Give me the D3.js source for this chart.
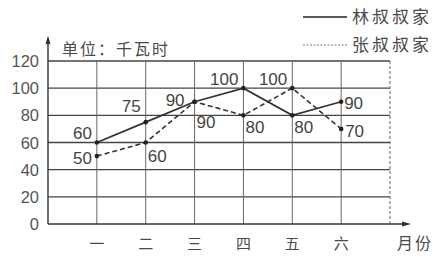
<!DOCTYPE html>
<html><head><meta charset="utf-8">
<script src="https://cdn.jsdelivr.net/npm/d3@7"></script>
<style>body{margin:0;background:#fff}</style>
</head><body>
<svg id="c" width="443" height="260"></svg>
<script>
const months = ["一","二","三","四","五","六"];
const linValues = [60,75,90,100,80,90];
const zhangValues = [50,60,90,80,100,70];
const yTicks = [0,20,40,60,80,100,120];
const seriesNames = ["林叔叔家","张叔叔家"];
const unitLabel = "单位：千瓦时";
const xAxisLabel = "月份";

const svg = d3.select("#c");
const x = d3.scaleLinear().domain([0,7]).range([48,390]);
const y = d3.scaleLinear().domain([0,120]).range([224,61]);
const ink = "#4a4a4a";
const cjk = "'Noto Sans CJK SC', sans-serif";
const num = "'Liberation Sans', Arial, sans-serif";

// grid horizontals
svg.append("g").selectAll("line").data(yTicks.filter(d=>d>0)).join("line")
  .attr("x1",x(0)).attr("x2",x(7)).attr("y1",d=>y(d)).attr("y2",d=>y(d))
  .attr("stroke","#444").attr("stroke-width",1.3);
// grid verticals
svg.append("g").selectAll("line").data(d3.range(1,8)).join("line")
  .attr("x1",d=>x(d)).attr("x2",d=>x(d)).attr("y1",y(120)).attr("y2",y(0))
  .attr("stroke","#666").attr("stroke-width",1).attr("stroke-dasharray",d=>d===7?"3,2":null);

// axes
svg.append("line").attr("x1",x(0)).attr("x2",x(0)).attr("y1",y(0)).attr("y2",38)
  .attr("stroke","#333").attr("stroke-width",1.4);
svg.append("path").attr("d",`M${x(0)-2.5},44 L${x(0)},36 L${x(0)+2.5},44 Z`).attr("fill","#333");
svg.append("line").attr("x1",x(0)).attr("x2",408).attr("y1",y(0)).attr("y2",y(0))
  .attr("stroke","#333").attr("stroke-width",1.6);
svg.append("path").attr("d",`M402,${y(0)-2.5} L411,${y(0)} L402,${y(0)+2.5} Z`).attr("fill","#333");

// y tick labels
svg.append("g").selectAll("text").data(yTicks).join("text")
  .attr("x",39).attr("y",d=>y(d)+6).attr("text-anchor","end")
  .attr("font-family",num).attr("font-size",16.5).attr("fill","#555").text(d=>d);

// month labels
svg.append("g").selectAll("text").data(months).join("text")
  .attr("x",(d,i)=>x(i+1)).attr("y",249).attr("text-anchor","middle")
  .attr("font-family",cjk).attr("font-size",15).attr("fill",ink).text(d=>d);
svg.append("text").attr("x",397).attr("y",249).attr("font-family",cjk)
  .attr("font-size",16).attr("letter-spacing",2).attr("fill",ink).text(xAxisLabel);

// unit
svg.append("text").attr("x",62).attr("y",55).attr("font-family",cjk)
  .attr("font-size",16).attr("letter-spacing",2).attr("fill",ink).text(unitLabel);

// lines
const line = d3.line().x((d,i)=>x(i+1)).y(d=>y(d));
svg.append("path").datum(linValues).attr("d",line).attr("fill","none")
  .attr("stroke","#333").attr("stroke-width",1.8);
svg.append("path").datum(zhangValues).attr("d",line).attr("fill","none")
  .attr("stroke","#333").attr("stroke-width",1.6).attr("stroke-dasharray","5,3");

// points
[linValues, zhangValues].forEach(vals=>{
  svg.append("g").selectAll("circle").data(vals).join("circle")
    .attr("cx",(d,i)=>x(i+1)).attr("cy",d=>y(d)).attr("r",2.3).attr("fill","#222");
});

// value labels: [dx, dy, anchor]
const linPlace = [[-5,-4,"end"],[-5,-10,"end"],[-10,4,"end"],[-5,-3,"end"],[2,18,"start"],[3,7,"start"]];
const zhangPlace = [[-5,8,"end"],[2,19,"start"],[2,26,"start"],[2,18,"start"],[-5,-3,"end"],[4,8,"start"]];
[[linValues,linPlace],[zhangValues,zhangPlace]].forEach(([vals,pl])=>{
  svg.append("g").selectAll("text").data(vals).join("text")
    .attr("x",(d,i)=>x(i+1)+pl[i][0]).attr("y",(d,i)=>y(d)+pl[i][1])
    .attr("text-anchor",(d,i)=>pl[i][2])
    .attr("font-family",num).attr("font-size",17).attr("fill","#444").text(d=>d);
});

// legend
svg.append("line").attr("x1",303).attr("x2",347).attr("y1",17).attr("y2",17)
  .attr("stroke","#222").attr("stroke-width",1.6);
svg.append("line").attr("x1",303).attr("x2",347).attr("y1",45).attr("y2",45)
  .attr("stroke","#777").attr("stroke-width",1).attr("stroke-dasharray","2,1.5");
svg.append("g").selectAll("text").data(seriesNames).join("text")
  .attr("x",352).attr("y",(d,i)=>23+i*28).attr("font-family",cjk)
  .attr("font-size",17).attr("letter-spacing",3).attr("fill",ink).text(d=>d);
</script>
</body></html>
